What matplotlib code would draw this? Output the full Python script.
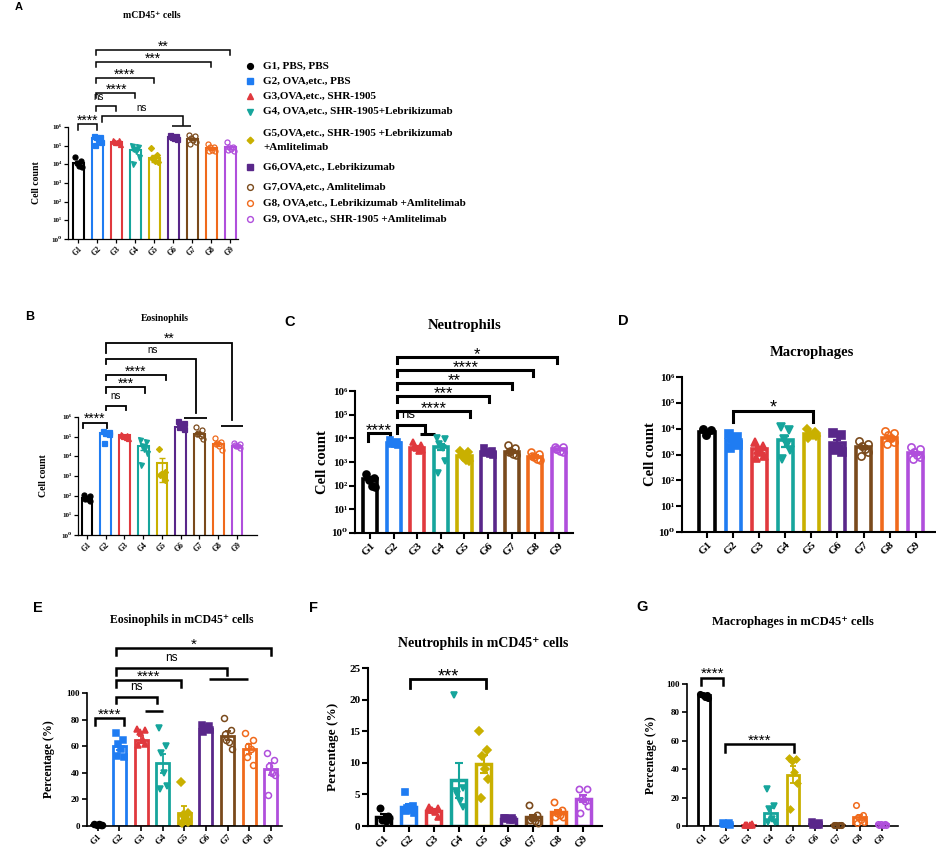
import matplotlib
matplotlib.use('Agg')
import matplotlib.pyplot as plt
import matplotlib.transforms as mtransforms
from matplotlib.lines import Line2D

W, H = 937, 861
fig = plt.figure(figsize=(W / 100, H / 100), dpi=100)

SERIF = ['Liberation Serif', 'DejaVu Serif']
SANS = ['Liberation Sans', 'DejaVu Sans']

# ---------------- data ----------------
groups = ['G1', 'G2', 'G3', 'G4', 'G5', 'G6', 'G7', 'G8', 'G9']
legend_labels = [
    'G1, PBS, PBS',
    'G2, OVA,etc., PBS',
    'G3,OVA,etc., SHR-1905',
    'G4, OVA,etc., SHR-1905+Lebrikizumab',
    'G5,OVA,etc., SHR-1905 +Lebrikizumab\n+Amlitelimab',
    'G6,OVA,etc., Lebrikizumab',
    'G7,OVA,etc., Amlitelimab',
    'G8, OVA,etc., Lebrikizumab +Amlitelimab',
    'G9, OVA,etc., SHR-1905 +Amlitelimab',
]

# A: mCD45+ cells (cell count)
A_mean = [1.25e4, 2.5e5, 1.6e5, 6.2e4, 2.2e4, 3.0e5, 2.3e5, 7.2e4, 8.0e4]
A_sem = [3e3, 2.5e4, 1.2e4, 1.3e4, 8e3, 2.5e4, 3.5e4, 1e4, 1.2e4]
A_pts = [
    [2.6e4, 1.5e4, 1.2e4, 8.5e3, 7.5e3],
    [3.2e5, 3.0e5, 2.8e5, 2.4e5, 1.6e5, 1.1e5],
    [2.0e5, 1.9e5, 1.6e5, 1.5e5, 1.3e5, 1.7e5],
    [9.5e4, 8.5e4, 7e4, 5e4, 2.5e4, 1.1e4],
    [7.5e4, 3e4, 2e4, 1.6e4, 1.3e4, 2.2e4],
    [3.6e5, 3.3e5, 3e5, 2.7e5, 2.4e5, 3.1e5],
    [3.7e5, 3.2e5, 2.6e5, 2e5, 1.5e5, 1.2e5],
    [1.3e5, 9e4, 8e4, 6e4, 5e4, 5.5e4],
    [1.5e5, 9e4, 8e4, 6.5e4, 5.5e4, 6e4],
]

# B: Eosinophils (cell count)
B_mean = [8e1, 1.6e5, 1.15e5, 3.2e4, 4.5e3, 3.2e5, 1.4e5, 4.3e4, 3.4e4]
B_sem = [8, 2e4, 1e4, 1.2e4, 4e3, 6e4, 3e4, 8e3, 4e3]
B_pts = [
    [1.05e2, 9.5e1, 8e1, 7e1, 5.5e1, 6.5e1],
    [1.9e5, 1.7e5, 1.6e5, 1.5e5, 1.35e5, 4.8e4],
    [1.4e5, 1.25e5, 1.1e5, 1e5, 8.5e4, 1.2e5],
    [6.5e4, 5.5e4, 3.5e4, 2.5e4, 1.5e4, 3.5e3],
    [2.3e4, 1.6e3, 1.2e3, 1.0e3, 6e2, 1.1e3],
    [6e5, 5e5, 4e5, 3.2e5, 2.5e5, 3e5],
    [3.2e5, 2.2e5, 1.6e5, 1.1e5, 8e4, 1.3e5],
    [9e4, 5.5e4, 4.5e4, 3.5e4, 2.2e4, 4e4],
    [5e4, 4.2e4, 3.5e4, 3.2e4, 2.6e4, 3.8e4],
]

# C: Neutrophils (cell count)
C_mean = [1.9e2, 6.2e3, 4.0e3, 4.5e3, 1.8e3, 2.6e3, 2.7e3, 1.7e3, 3.4e3]
C_sem = [40, 6e2, 6e2, 1.4e3, 3e2, 3e2, 4e2, 2e2, 2.5e2]
C_pts = [
    [3e2, 2.2e2, 1.8e2, 1e2, 8.5e1],
    [8.5e3, 7e3, 6e3, 5.5e3, 5e3, 6.5e3],
    [7e3, 5e3, 4e3, 3e3, 3.2e3, 4.5e3],
    [1e4, 9e3, 5.5e3, 4e3, 1.1e3, 3.4e2],
    [3e3, 2.6e3, 1.6e3, 1.2e3, 1.1e3, 2e3],
    [3.8e3, 3e3, 2.6e3, 2.1e3, 2e3, 2.4e3],
    [5e3, 4e3, 3e3, 2.1e3, 1.9e3, 2.6e3],
    [2.6e3, 2.1e3, 1.6e3, 1.3e3, 1.2e3, 1.8e3],
    [4.5e3, 4.2e3, 3.6e3, 3e3, 2.6e3, 3.4e3],
]

# D: Macrophages (cell count)
D_mean = [7.6e3, 3.8e3, 1.6e3, 3.6e3, 6.0e3, 2.8e3, 1.9e3, 4.2e3, 1.1e3]
D_sem = [1.2e3, 6e2, 3.5e2, 1.6e3, 8e2, 9e2, 3e2, 8e2, 1.8e2]
D_pts = [
    [9.5e3, 8.5e3, 5.8e3],
    [6e3, 4.8e3, 4e3, 3.2e3, 2.4e3, 1.8e3],
    [3e3, 2.2e3, 1.5e3, 1.2e3, 9e2, 7.5e2],
    [1.2e4, 9e3, 4e3, 2.5e3, 1.5e3, 7e2],
    [1e4, 7.5e3, 6e3, 5.5e3, 5e3, 4.5e3],
    [7e3, 5.5e3, 2e3, 1.6e3, 1.3e3, 1.5e3],
    [3.2e3, 2.6e3, 2.1e3, 1.6e3, 1.2e3, 9e2],
    [8e3, 6.5e3, 5.5e3, 4.5e3, 3e3, 2.6e3],
    [1.9e3, 1.6e3, 1.2e3, 1e3, 8e2, 7e2],
]

# E: Eosinophils in mCD45+ cells (%)
E_mean = [1.0, 60, 65, 47, 10, 73, 68, 58, 43]
E_sem = [0.3, 3, 2.5, 7.5, 5, 1, 3.5, 3.5, 4.5]
E_pts = [
    [1.5, 1.0, 0.8, 1.2, 0.5],
    [70, 65, 62, 58, 52, 53],
    [73, 72, 71, 65, 62, 61],
    [74, 60, 55, 40, 30, 28],
    [33, 10, 8, 5, 3, 2],
    [76, 75, 74, 73, 72, 71],
    [81, 72, 65, 63, 58, 69],
    [70, 65, 60, 58, 46, 52],
    [55, 50, 45, 40, 38, 23],
]

# F: Neutrophils in mCD45+ cells (%)
F_mean = [1.5, 3.0, 2.4, 7.2, 9.8, 1.1, 1.4, 2.2, 4.3]
F_sem = [0.45, 0.5, 0.25, 2.8, 1.4, 0.1, 0.4, 0.35, 0.55]
F_pts = [
    [2.8, 1.6, 1.0, 0.8, 1.2],
    [5.4, 3.1, 2.8, 2.5, 2.0, 2.3],
    [3.0, 2.9, 2.5, 2.2, 1.5, 2.6],
    [20.8, 6.0, 5.0, 4.0, 3.0, 5.5],
    [15.0, 12.0, 11.0, 9.0, 7.5, 4.4],
    [1.3, 1.2, 1.1, 1.0, 0.9, 1.2],
    [3.3, 1.8, 1.2, 0.8, 0.5, 1.0],
    [3.8, 2.6, 2.0, 1.8, 1.5, 1.5],
    [5.9, 5.8, 4.5, 4.0, 3.2, 2.1],
]

# G: Macrophages in mCD45+ cells (%)
G_mean = [92, 1.5, 0.8, 9, 36, 1.5, 0.8, 6, 1.2]
G_sem = [0.6, 0.2, 0.15, 3.5, 6, 0.3, 0.1, 2, 0.1]
G_pts = [
    [93, 92.5, 92, 91, 90],
    [2.0, 1.8, 1.5, 1.2, 1.0, 1.5],
    [1.0, 0.8, 0.5, 0.5, 1.2, 0.7],
    [26, 14, 12, 5, 3, 3],
    [48, 47, 46, 38, 30, 12],
    [2.5, 2.0, 1.5, 1.0, 1.0, 1.0],
    [1.0, 1.0, 0.8, 0.6, 0.5, 0.7],
    [15, 8, 6, 4, 3, 2],
    [1.5, 1.5, 1.2, 1.0, 1.0, 1.0],
]

log_ticks = [1, 10, 100, 1e3, 1e4, 1e5, 1e6]
log_labels = ['10⁰', '10¹', '10²', '10³', '10⁴', '10⁵', '10⁶']
pct_ticks = [0, 20, 40, 60, 80, 100]
f_ticks = [0, 5, 10, 15, 20, 25]

# ---------------- styles ----------------
colors = ['#000000', '#1f7cf2', '#e0393e', '#16a59c', '#c9b000',
          '#59278a', '#7a4a1c', '#f06a1c', '#b04fdc']
markers = ['o', 's', '^', 'v', 'D', 's', 'o', 'o', 'o']
filled = [True, True, True, True, True, True, False, False, False]
offs = [-0.17, 0.16, -0.06, 0.07, 0.19, -0.12]


def rect(l, t, r, b):
    return [l / W, 1 - b / H, (r - l) / W, (b - t) / H]


def panel(box, xlim, means, sems, pts, log, ylim, yticks, ylabels, st):
    ax = fig.add_axes(rect(*box))
    if log:
        ax.set_yscale('log')
    xs = list(range(len(groups)))
    ax.bar(xs, means, width=st['bw'], color='white', edgecolor=colors,
           linewidth=st['blw'], zorder=2)
    for i in xs:
        ax.errorbar(i, means[i], yerr=sems[i], color=colors[i], lw=st['elw'],
                    capsize=st['cap'], capthick=st['elw'], zorder=3)
        px = [i + offs[k] * st['bw'] / 0.6 for k in range(len(pts[i]))]
        mfc = colors[i] if filled[i] else 'none'
        ms = st['ms'] * (0.85 if markers[i] == 'D' else 1.0)
        ax.plot(px, pts[i], linestyle='none', marker=markers[i], ms=ms,
                mfc=mfc, mec=colors[i], mew=st['mew'], zorder=4, clip_on=False)
    ax.set_xlim(*xlim)
    ax.set_ylim(*ylim)
    ax.set_yticks(yticks)
    ax.set_yticklabels(ylabels)
    ax.minorticks_off()
    ax.set_xticks(xs)
    ax.set_xticklabels(groups, rotation=45, ha='right', rotation_mode='anchor')
    for s in ['top', 'right']:
        ax.spines[s].set_visible(False)
    for s in ['left', 'bottom']:
        ax.spines[s].set_linewidth(st['slw'])
    ax.tick_params(axis='both', direction='out', length=st['tl'], width=st['slw'], pad=1.5)
    for lab in ax.get_yticklabels():
        lab.set_fontfamily(SERIF)
        lab.set_fontweight('bold')
        lab.set_fontsize(st['yfs'])
    for lab in ax.get_xticklabels():
        lab.set_fontfamily(SERIF)
        lab.set_fontweight('bold')
        lab.set_fontsize(st['xfs'])
    ax.patch.set_alpha(0)
    return ax


def ylabel(ax, text, xpx, fs):
    ax.set_ylabel(text, fontsize=fs, fontweight='bold', fontfamily=SERIF)
    bb = ax.get_position()
    xa = (xpx / W - bb.x0) / bb.width
    ax.yaxis.set_label_coords(xa + (fs * 0.45 / 72 * 100) / (bb.width * W), 0.5)


def sig(ax, items, hlines, st):
    tr = mtransforms.blended_transform_factory(ax.transData, ax.transAxes)
    for item in items:
        x1, x2, y, txt, d1, d2 = item[:6]
        tx = item[6] if len(item) > 6 else (x1 + x2) / 2
        ax.plot([x1, x1, x2, x2], [d1, y, y, d2], transform=tr, color='black',
                lw=st['sglw'], clip_on=False, solid_joinstyle='miter')
        if '*' in txt:
            fs = st['starfs']
            off = st['dstar'] - 0.58 * fs * 100 / 72
        else:
            fs = st['nsfs']
            off = st['dns'] - 0.26 * fs * 100 / 72
        ax.annotate(txt, xy=(tx, y), xycoords=tr, xytext=(0, off),
                    textcoords='offset pixels', ha='center', va='baseline',
                    fontsize=fs, fontfamily=SANS, annotation_clip=False)
    for (x1, x2, y) in hlines:
        ax.plot([x1, x2], [y, y], transform=tr, color='black', lw=st['sglw'],
                clip_on=False, solid_capstyle='butt')


def ftext(xpx, ypx, text, **kw):
    fig.text(xpx / W, 1 - ypx / H, text, **kw)


# ---------- Panel A ----------
stA = dict(bw=0.58, blw=1.5, elw=1.0, cap=2.0, ms=3.6, mew=0.9, slw=0.9, tl=3,
           yfs=5, xfs=5.5, sglw=1.1, starfs=10, nsfs=7, dstar=7.3, dns=8.0)
axA = panel((68, 127, 238, 239), (-0.53, 8.42), A_mean, A_sem, A_pts, True,
            (1, 1e6), log_ticks, log_labels, stA)
ylabel(axA, 'Cell count', 37, 7)
sig(axA, [
    (0.0, 0.98, 1.027, '****', 0.973, 0.973),
    (1.25, 5.55, 1.098, 'ns', 1.047, 1.018, 3.37),
    (0.92, 2.0, 1.188, 'ns', 1.143, 1.143, 1.1),
    (0.92, 3.0, 1.304, '****', 1.259, 1.259, 2.05),
    (0.92, 4.0, 1.4375, '****', 1.393, 1.393),
    (0.92, 7.0, 1.58, '***', 1.536, 1.536),
    (0.92, 8.0, 1.6875, '**', 1.643, 1.643),
], [(4.95, 5.95, 1.009)], stA)

# legend of panel A
leg_y = [66, 81, 96, 111.5, 140, 167, 187, 203, 219]
for i in range(len(groups)):
    mfc = colors[i] if filled[i] else 'none'
    fig.add_artist(Line2D([250 / W], [1 - leg_y[i] / H], transform=fig.transFigure,
                          marker=markers[i], ms=4.2 * (0.8 if markers[i] == 'D' else 1),
                          mfc=mfc, mec=colors[i], mew=1.0, linestyle='none'))
    ftext(263, leg_y[i], legend_labels[i], ha='left', va='center', fontsize=8,
          fontweight='bold', fontfamily=SERIF, linespacing=1.75)

# ---------- Panel B ----------
stB = dict(bw=0.58, blw=1.5, elw=1.0, cap=2.0, ms=3.6, mew=0.9, slw=0.9, tl=3,
           yfs=5, xfs=5.5, sglw=1.3, starfs=10, nsfs=7, dstar=7.7, dns=9.3)
axB = panel((78, 417, 257, 535), (-0.48, 9.07), B_mean, B_sem, B_pts, True,
            (1, 1e6), log_ticks, log_labels, stB)
ylabel(axB, 'Cell count', 44, 7)
sig(axB, [
    (-0.2, 1.05, 0.95, '****', 0.904, 0.904),
    (1.0, 2.1, 1.093, 'ns', 1.059, 1.059),
    (1.0, 3.1, 1.252, '***', 1.206, 1.206),
    (1.0, 4.2, 1.356, '****', 1.314, 1.314),
    (1.0, 5.8, 1.489, 'ns', 1.447, 1.031, 3.5),
    (1.0, 7.73, 1.63, '**', 1.54, 0.975),
], [(5.2, 6.4, 0.989), (7.17, 8.33, 0.924)], stB)

# ---------- Panel C ----------
stC = dict(bw=0.6, blw=2.6, elw=1.6, cap=3.0, ms=5.0, mew=1.2, slw=1.5, tl=4,
           yfs=8, xfs=8, sglw=2.2, starfs=12, nsfs=9.5, dstar=7.5, dns=11)
axC = panel((355, 391, 573, 533), (-0.64, 8.6), C_mean, C_sem, C_pts, True,
            (1, 1e6), log_ticks, log_labels, stC)
ylabel(axC, 'Cell count', 322, 10.5)
sig(axC, [
    (-0.1, 0.85, 0.702, '****', 0.65, 0.65),
    (1.15, 2.33, 0.76, 'ns', 0.706, 0.706, 1.6),
    (1.15, 4.24, 0.861, '****', 0.819, 0.819),
    (1.15, 5.04, 0.967, '***', 0.925, 0.925),
    (1.15, 6.0, 1.054, '**', 1.012, 1.012),
    (1.15, 6.92, 1.148, '****', 1.106, 1.106),
    (1.15, 7.94, 1.242, '*', 1.2, 1.2),
], [(2.12, 2.75, 0.697)], stC)

# ---------- Panel D ----------
stD = dict(bw=0.58, blw=2.6, elw=1.6, cap=3.0, ms=5.2, mew=1.2, slw=1.5, tl=4,
           yfs=8, xfs=8, sglw=2.2, starfs=13, nsfs=9.5, dstar=9, dns=11)
axD = panel((682, 377, 935, 532), (-0.96, 8.74), D_mean, D_sem, D_pts, True,
            (1, 1e6), log_ticks, log_labels, stD)
ylabel(axD, 'Cell count', 650, 10.5)
sig(axD, [(1.01, 4.05, 0.783, '*', 0.712, 0.712)], [], stD)

# ---------- Panel E ----------
stE = dict(bw=0.6, blw=2.0, elw=1.3, cap=2.5, ms=4.3, mew=1.1, slw=1.2, tl=3.5,
           yfs=6.5, xfs=6.5, sglw=1.8, starfs=11, nsfs=8.5, dstar=8.3, dns=10)
axE = panel((87, 693, 282, 826), (-0.5, 8.52), E_mean, E_sem, E_pts, False,
            (0, 100), pct_ticks, [str(t) for t in pct_ticks], stE)
ylabel(axE, 'Percentage (%)', 50, 8.5)
sig(axE, [
    (-0.14, 1.2, 0.814, '****', 0.759, 0.759),
    (0.85, 2.72, 0.972, 'ns', 0.922, 0.922),
    (0.85, 3.87, 1.098, '****', 1.043, 1.043),
    (0.85, 5.99, 1.19, 'ns', 1.135, 1.135),
    (0.85, 8.0, 1.34, '*', 1.286, 1.286),
], [(2.18, 3.02, 0.867), (5.16, 6.96, 1.105)], stE)

# ---------- Panel F ----------
stF = dict(bw=0.6, blw=2.5, elw=1.5, cap=3.0, ms=4.5, mew=1.2, slw=1.5, tl=4,
           yfs=8, xfs=7.5, sglw=2.0, starfs=13, nsfs=9.5, dstar=8.7, dns=11)
axF = panel((368, 668, 602, 826), (-0.64, 8.76), F_mean, F_sem, F_pts, False,
            (0, 25), f_ticks, [str(t) for t in f_ticks], stF)
ylabel(axF, 'Percentage (%)', 333, 9.5)
sig(axF, [(1.04, 4.1, 0.928, '***', 0.871, 0.871)], [], stF)

# ---------- Panel G ----------
stG = dict(bw=0.56, blw=2.0, elw=1.3, cap=2.5, ms=4.0, mew=1.1, slw=1.2, tl=3.5,
           yfs=6.5, xfs=6.5, sglw=1.8, starfs=11, nsfs=8.5, dstar=8.5, dns=10)
axG = panel((687, 684, 898, 826), (-0.76, 8.72), G_mean, G_sem, G_pts, False,
            (0, 100), pct_ticks, [str(t) for t in pct_ticks], stG)
ylabel(axG, 'Percentage (%)', 652, 8.5)
sig(axG, [
    (-0.13, 0.87, 1.044, '****', 0.993, 0.993),
    (0.94, 4.06, 0.577, '****', 0.523, 0.523),
], [], stG)

# ---------- titles ----------
titles = [
    (152, 15, 'mCD45⁺ cells', 7),
    (165, 318, 'Eosinophils', 7),
    (465, 325, 'Neutrophils', 10.5),
    (812, 353, 'Macrophages', 10.5),
    (182, 620, 'Eosinophils in mCD45⁺ cells', 8.5),
    (483, 643, 'Neutrophils in mCD45⁺ cells', 10),
    (793, 622, 'Macrophages in mCD45⁺ cells', 9),
]
for (x, y, t, fs) in titles:
    ftext(x, y, t, ha='center', va='center', fontsize=fs, fontweight='bold',
          fontfamily=SERIF)

letters = [(19, 7, 'A', 8), (30, 317, 'B', 9), (290, 322, 'C', 10.5),
           (623, 321, 'D', 10.5), (38, 608, 'E', 10.5), (313, 608, 'F', 10.5),
           (642, 607, 'G', 10.5)]
for (x, y, t, fs) in letters:
    ftext(x, y, t, ha='center', va='center', fontsize=fs, fontweight='bold',
          fontfamily=SANS)

fig.savefig('out.png', dpi=100)
